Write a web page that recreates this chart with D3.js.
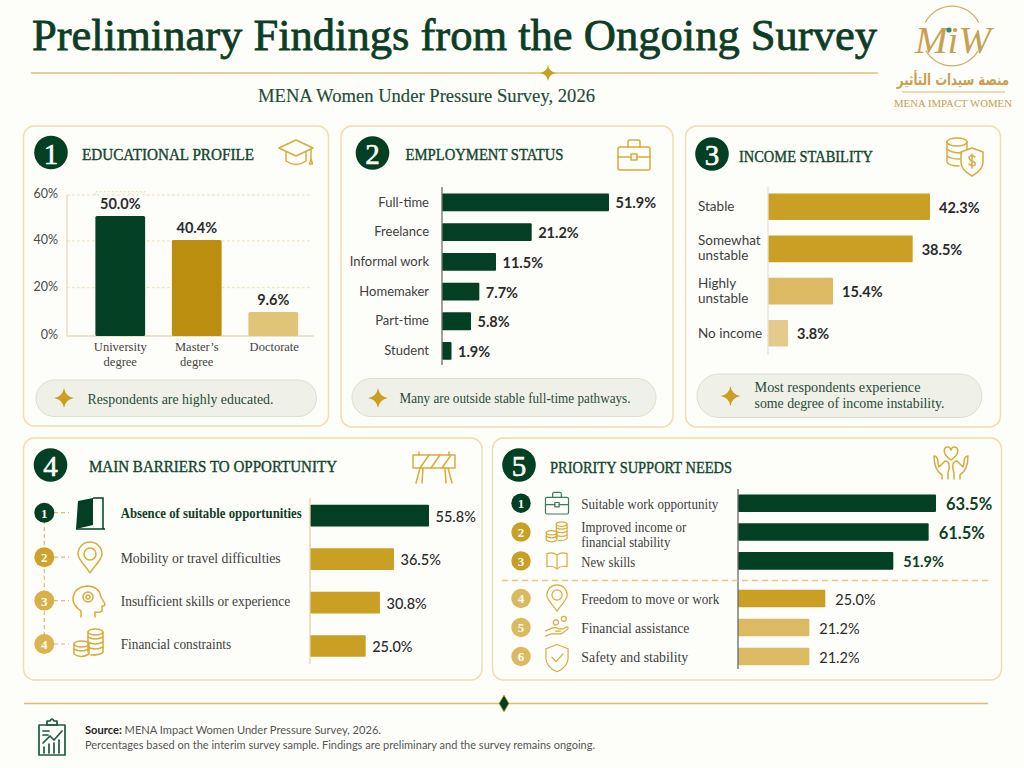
<!DOCTYPE html>
<html lang="en">
<head>
  <meta charset="utf-8">
  <title>Preliminary Findings from the Ongoing Survey</title>
  <script src="https://d3js.org/d3.v7.min.js"></script>
  <style>
    html, body { margin: 0; background: #fdfdfa; }
    svg { display: block; }
    text { font-family: "Liberation Serif", serif; }
    .sans { font-family: Lato, sans-serif; }
    .value { font-family: Lato, sans-serif; font-weight: 700; font-size: 14.5px; fill: #2b2b2b; dominant-baseline: central; }
    .domain { display: none; }
    .icon { fill: none; stroke-linecap: round; stroke-linejoin: round; }
  </style>
</head>
<body>
<script>
// values
var eduLabels = ["University degree", "Master\u2019s degree", "Doctorate"];
var eduValues = [50.0, 40.4, 9.6];
var eduTicks = [0, 20, 40, 60];

var empLabels = ["Full-time", "Freelance", "Informal work", "Homemaker", "Part-time", "Student"];
var empValues = [51.9, 21.2, 11.5, 7.7, 5.8, 1.9];

var incLabels = ["Stable", "Somewhat unstable", "Highly unstable", "No income"];
var incValues = [42.3, 38.5, 15.4, 3.8];

var barLabels = ["Absence of suitable opportunities", "Mobility or travel difficulties", "Insufficient skills or experience", "Financial constraints"];
var barValues = [55.8, 36.5, 30.8, 25.0];

var topNeedLabels = ["Suitable work opportunity", "Improved income or financial stability", "New skills"];
var topNeedValues = [63.5, 61.5, 51.9];
var lowNeedLabels = ["Freedom to move or work", "Financial assistance", "Safety and stability"];
var lowNeedValues = [25.0, 21.2, 21.2];

var GREEN = "#033f23", GOLD = "#c99f24", DARKGOLD = "#bc8e10", LIGHT = "#dcb963", PALE = "#e5cb8b";
var INK = "#0f3f28", OUTLINE = "#d9ab3e";

var pct = function(d) { return d.toFixed(1) + "%"; };

var svg = d3.select("body").append("svg").attr("width", 1024).attr("height", 768);
svg.append("rect").attr("width", 1024).attr("height", 768).attr("fill", "#fdfdfa");

// small path library for the pictograms, all drawn round 0,0
var icons = {
  cap: ["M-17,-5L0,-13L17,-5L0,3Z", "M-10,-1V8Q0,15 10,8V-1", "M15,-4V7", "M13.5,11L15,6L16.5,11Z"],
  case: ["M-14,-8H14Q16,-8 16,-6V13Q16,15 14,15H-14Q-16,15 -16,13V-6Q-16,-8 -14,-8Z", "M-6,-8V-13Q-6,-15 -4,-15H4Q6,-15 6,-13V-8", "M-16,2H-3M3,2H16", "M-3,-1H3V5H-3Z"],
  coinshield: ["M-18,-14A10,4 0 1 1 2,-14A10,4 0 1 1 -18,-14", "M-18,-14V6Q-16,10 -6,10", "M2,-14V-7", "M-18,-7Q-14,-3 -3,-3", "M-18,0Q-14,3 -5,3",
    "M7,-8L18,-4V6Q18,14 7,20Q-4,14 -4,6V-4Z", "M10,1Q7,-2 4,1Q4,4 7,5Q11,6 10,9Q7,11 4,8M7,-2V12"],
  barrier: ["M-21,-12H21V1H-21Z", "M-14,1L-5,-12M-3,1L6,-12M8,1L17,-12", "M-15,-15V-12M15,-15V-12", "M-14,1L-18,16M-11,1L-12,16M14,1L18,16M11,1L12,16"],
  hands: ["M0,-4C-10,-11 -7,-17 -3,-17Q-1,-17 0,-14Q1,-17 3,-17C7,-17 10,-11 0,-4Z",
    "M-9,15V11Q-17,6 -17,-8Q-13,-8 -13,-1L-12,3L-6,-3Q-3,-3 -2,0Q-1,4 -3,9V15",
    "M9,15V11Q17,6 17,-8Q13,-8 13,-1L12,3L6,-3Q3,-3 2,0Q1,4 3,9V15"],
  pin: ["M0,15C-4,8 -12,2 -12,-4A12,12 0 1 1 12,-4C12,2 4,8 0,15Z", "M-6,-4A6,6 0 1 1 6,-4A6,6 0 1 1 -6,-4"],
  head: ["M-9,15V9Q-18,3 -17,-5Q-15,-15 -3,-16Q9,-16 11,-5L15,2Q15,4 12,4V9Q10,11 5,10V15", "M-7,-5A5,5 0 1 1 3,-5A5,5 0 1 1 -7,-5", "M-4,-5A2,2 0 1 1 0,-5A2,2 0 1 1 -4,-5"],
  coins: ["M-1,-11A7.5,3 0 1 1 14,-11A7.5,3 0 1 1 -1,-11", "M-1,-11V9M14,-11V9Q12,12 2,12", "M-1,-6Q6,-2 14,-6M-1,-1Q6,3 14,-1M-1,4Q6,8 14,4",
    "M-15,1A7.5,3 0 1 1 0,1A7.5,3 0 1 1 -15,1", "M-15,1V11Q-8,16 0,11V1", "M-15,6Q-8,10 0,6"],
  book: ["M0,-8Q-6,-13 -14,-10V8Q-6,6 0,11Q6,6 14,8V-10Q6,-13 0,-8Z", "M0,-8V11"],
  handcoins: ["M-16,5L-7,1Q-2,-1 2,2H8L14,-1Q17,0 14,3L6,9H-8L-16,12", "M-2,5H5", "M-5,-7A3.5,3.5 0 1 1 2,-7A3.5,3.5 0 1 1 -5,-7", "M6,-12A3.5,3.5 0 1 1 13,-12A3.5,3.5 0 1 1 6,-12"],
  shield: ["M0,-14L13,-9V2Q13,12 0,18Q-13,12 -13,2V-9Z", "M-6,1L-1,6L7,-3"],
  clipboard: ["M-13,-13H13V17H-13Z", "M-5,-13V-17H-2Q0,-21 2,-17H5V-13Z", "M-9,-7H-3M-9,-3H-4", "M-9,5L-2,-2L2,2L10,-7", "M-8,15V9M-3,15V6M2,15V5M7,15V2"]
};

function drawIcon(name, x, y, color, scale, width) {
  var g = svg.append("g").attr("class", "icon")
    .attr("transform", "translate(" + x + "," + y + ") scale(" + (scale || 1) + ")")
    .attr("stroke", color).attr("stroke-width", (width || 1.4) / (scale || 1));
  icons[name].forEach(function(d) { g.append("path").attr("d", d); });
  return g;
}

function star(x, y, r, color) {
  var c = r * 0.14;
  svg.append("path").attr("transform", "translate(" + x + "," + y + ")")
    .attr("d", "M0," + (-r) + "Q" + c + "," + (-c) + " " + r + ",0Q" + c + "," + c + " 0," + r + "Q" + (-c) + "," + c + " " + (-r) + ",0Q" + (-c) + "," + (-c) + " 0," + (-r) + "Z")
    .attr("fill", color);
}

function fitted(x, y, str, len, size, color) {
  return svg.append("text").attr("x", x).attr("y", y).text(str)
    .attr("font-size", size).attr("fill", color)
    .attr("dominant-baseline", "central")
    .attr("textLength", len).attr("lengthAdjust", "spacingAndGlyphs");
}

function panel(x, y, w, h, n, cx, cy, title, tx, ty, tw) {
  svg.append("rect").attr("x", x).attr("y", y).attr("width", w).attr("height", h).attr("rx", 11)
    .attr("fill", "#fdfdf9").attr("stroke", "#f0dcae").attr("stroke-width", 1.4);
  svg.append("circle").attr("cx", cx).attr("cy", cy).attr("r", 16.8).attr("fill", GREEN);
  svg.append("text").attr("x", cx).attr("y", cy + 1).text(n).attr("text-anchor", "middle")
    .attr("dominant-baseline", "central").attr("font-size", 29).attr("fill", "#fdfdfa")
    .attr("stroke", "#fdfdfa").attr("stroke-width", 0.6);
  fitted(tx, ty, title, tw, 17, "#14452f").attr("stroke", "#14452f").attr("stroke-width", 0.4);
}

function pill(x, y, w, h, sx, sy, lines, tx, lineYs, lens) {
  svg.append("rect").attr("x", x).attr("y", y).attr("width", w).attr("height", h).attr("rx", h / 2)
    .attr("fill", "#eff1e8").attr("stroke", "#dbe0cd");
  star(sx, sy, 10, GOLD);
  lines.forEach(function(l, i) { fitted(tx, lineYs[i], l, lens[i], 14.5, "#2c4a3a"); });
}

// horizontal bars through band + linear scales; the drawn lengths in the
// reference do not follow one straight scale so the x scales have several knots
function hBars(labels, values, y, x, color) {
  var x0 = x.range()[0];
  svg.append("g").selectAll("rect").data(values).join("rect")
    .attr("x", x0).attr("y", function(d, i) { return y(labels[i]); })
    .attr("width", function(d) { return x(d) - x0; }).attr("height", y.bandwidth())
    .attr("rx", 1).attr("fill", function(d, i) { return color(labels[i]); });
}

function hValues(labels, values, y, x, gap, fmt) {
  return svg.append("g").selectAll("text").data(values).join("text").attr("class", "value")
    .attr("x", function(d) { return x(d) + gap; })
    .attr("y", function(d, i) { return y(labels[i]) + y.bandwidth() / 2 + 0.5; })
    .text(fmt || pct);
}

function rule(x, y1, y2, color) {
  svg.append("line").attr("x1", x).attr("x2", x).attr("y1", y1).attr("y2", y2)
    .attr("stroke", color).attr("stroke-width", 1.3);
}

function wrapLines(label) {
  if (label.indexOf("Somewhat") === 0) return ["Somewhat", "unstable"];
  if (label.indexOf("Highly") === 0) return ["Highly", "unstable"];
  if (label.indexOf("University") === 0) return ["University", "degree"];
  if (label.indexOf("Master") === 0) return ["Master\u2019s", "degree"];
  if (label.indexOf("Improved") === 0) return ["Improved income or", "financial stability"];
  return [label];
}

// header
svg.append("text").attr("x", 32).attr("y", 50).text("Preliminary Findings from the Ongoing Survey")
  .attr("font-size", 45).attr("fill", "#0e3d26").attr("stroke", "#0e3d26").attr("stroke-width", 0.8)
  .attr("textLength", 845).attr("lengthAdjust", "spacingAndGlyphs");
svg.append("line").attr("x1", 31).attr("x2", 878).attr("y1", 73).attr("y2", 73).attr("stroke", "#e2bf72").attr("stroke-width", 1.3);
star(548, 73, 8, GOLD);
fitted(258, 95, "MENA Women Under Pressure Survey, 2026", 337, 19.5, "#234b38").attr("stroke", "#234b38").attr("stroke-width", 0.15);

// logo
var LOGO = "#c9a053";
svg.append("path").attr("d", d3.arc()({ innerRadius: 29.3, outerRadius: 30.5, startAngle: -1.1, endAngle: 1.1 }))
  .attr("transform", "translate(952,36)").attr("fill", "#d3ae66");
svg.append("path").attr("d", d3.arc()({ innerRadius: 29.3, outerRadius: 30.5, startAngle: 2.1, endAngle: 4.2 }))
  .attr("transform", "translate(952,36)").attr("fill", "#d3ae66");
svg.append("text").attr("x", 953).attr("y", 53).text("MiW").attr("text-anchor", "middle")
  .attr("font-size", 38).attr("font-style", "italic").attr("fill", LOGO)
  .attr("textLength", 76).attr("lengthAdjust", "spacingAndGlyphs");
svg.append("circle").attr("cx", 949).attr("cy", 30).attr("r", 2.6).attr("fill", "#2e8f63");
svg.append("text").attr("transform", "translate(953,85) scale(0.76,1)").text("\u0645\u0646\u0635\u0629 \u0633\u064a\u062f\u0627\u062a \u0627\u0644\u062a\u0623\u062b\u064a\u0631")
  .attr("text-anchor", "middle").attr("direction", "rtl").attr("font-size", 15.5).attr("font-weight", 700)
  .style("font-family", "'DejaVu Sans', sans-serif").attr("fill", LOGO);
svg.append("line").attr("x1", 902).attr("x2", 1005).attr("y1", 92).attr("y2", 92).attr("stroke", "#d8b878");
fitted(894, 103, "MENA IMPACT WOMEN", 118, 11, LOGO);

// 1 educational profile
panel(23.5, 126, 305, 300, "1", 51, 152.5, "EDUCATIONAL PROFILE", 82, 154, 172);
drawIcon("cap", 296, 153, OUTLINE, 1, 1.5);

var eduY = d3.scaleLinear().domain([0, 9.6, 40.4, 50, 60]).range([336, 312, 240, 216, 195]);
var eduX = d3.scaleBand().domain(eduLabels).range([82, 311.5]).paddingInner(0.35).paddingOuter(0.175);
var eduColor = d3.scaleOrdinal(eduLabels, [GREEN, DARKGOLD, "#e0c477"]);

svg.append("g").selectAll("line").data(eduTicks.slice(1)).join("line")
  .attr("x1", 67).attr("x2", 310).attr("y1", function(d) { return eduY(d); }).attr("y2", function(d) { return eduY(d); })
  .attr("stroke", "#ecdcb0").attr("stroke-dasharray", "2.5 2.5");
svg.append("path").attr("d", "M95,195V191.7H145V195").attr("fill", "none").attr("stroke", "#ecdcb0").attr("stroke-dasharray", "2 2");
rule(67, 195, 336, "#e6d9bd");
svg.append("line").attr("x1", 67).attr("x2", 314).attr("y1", 336).attr("y2", 336).attr("stroke", "#e6d9bd").attr("stroke-width", 1.3);

var eduAxisY = svg.append("g").attr("transform", "translate(67,1.5)")
  .call(d3.axisLeft(eduY).tickValues(eduTicks).tickSize(0).tickPadding(9).tickFormat(function(d) { return d + "%"; }));
eduAxisY.selectAll("text").attr("class", "sans").attr("font-size", 12.5).attr("fill", "#4a4a4a").attr("dy", "0.1em");

var eduAxisX = svg.append("g").attr("transform", "translate(0,336)")
  .call(d3.axisBottom(eduX).tickSize(0).tickFormat(""));
eduAxisX.selectAll(".tick text").each(function(d) {
  var t = d3.select(this).attr("y", 0).attr("dy", null).attr("font-size", 12.5).attr("fill", "#444");
  wrapLines(d).forEach(function(l, i) {
    t.append("tspan").attr("x", d === "Doctorate" ? 1 : 0).attr("y", 15 + i * 14.5).text(l);
  });
});

svg.append("g").selectAll("rect").data(eduValues).join("rect")
  .attr("x", function(d, i) { return eduX(eduLabels[i]); }).attr("y", function(d) { return eduY(d); })
  .attr("width", eduX.bandwidth()).attr("height", function(d) { return eduY(0) - eduY(d); })
  .attr("rx", 1.5).attr("fill", function(d, i) { return eduColor(eduLabels[i]); });
svg.append("g").selectAll("text").data(eduValues).join("text").attr("class", "value")
  .attr("x", function(d, i) { return eduX(eduLabels[i]) + eduX.bandwidth() / 2; })
  .attr("y", function(d) { return eduY(d) - 12.5; }).attr("text-anchor", "middle").text(pct);
pill(36, 380, 280.5, 36.5, 64, 398, ["Respondents are highly educated."], 87.5, [398.5], [186]);

// 2 employment status
panel(341, 126, 332, 301, "2", 372.5, 153, "EMPLOYMENT STATUS", 405.5, 154.5, 158);
drawIcon("case", 634, 155, OUTLINE, 1, 1.5);

var empY = d3.scaleBand().domain(empLabels).range([187.6, 365.8]).paddingInner(0.4).paddingOuter(0.2);
var empX = d3.scaleLinear().domain([0, 5.8, 11.5, 21.2, 51.9]).range([442, 471, 496, 531.7, 609]);
hBars(empLabels, empValues, empY, empX, function() { return GREEN; });
rule(442, 187, 365, "#6b6f6a");
hValues(empLabels, empValues, empY, empX, 6.5);
var empAxis = svg.append("g").attr("transform", "translate(442,0)")
  .call(d3.axisLeft(empY).tickSize(0).tickPadding(13));
empAxis.selectAll("text").attr("class", "sans").attr("font-size", 13).attr("fill", "#3f3f3f");
pill(352, 378.5, 304, 38, 378, 398, ["Many are outside stable full-time pathways."], 399.5, [397.5], [231]);

// 3 income stability
panel(685.5, 126, 315, 301, "3", 712, 154, "INCOME STABILITY", 739, 156, 134);
drawIcon("coinshield", 965, 156, OUTLINE, 1, 1.5);

var incY = d3.scaleBand().domain(incLabels).range([185.6, 354.4]).paddingInner(0.37).paddingOuter(0.185);
var incX = d3.scaleLinear().domain([0, 3.8, 15.4, 38.5, 42.3]).range([768, 788, 833, 912.7, 930]);
var incColor = d3.scaleOrdinal(incLabels, [GOLD, GOLD, LIGHT, PALE]);
hBars(incLabels, incValues, incY, incX, incColor);
rule(768, 187, 355, "#e8e2d2");
hValues(incLabels, incValues, incY, incX, 9);
var incAxis = svg.append("g").attr("transform", "translate(768,0)")
  .call(d3.axisLeft(incY).tickSize(0));
incAxis.selectAll(".tick text").each(function(d) {
  var lines = wrapLines(d);
  var t = d3.select(this).attr("x", null).attr("dy", null).attr("class", "sans").attr("text-anchor", "start")
    .attr("font-size", 13.5).attr("fill", "#3f3f3f");
  t.text(null);
  lines.forEach(function(l, i) {
    t.append("tspan").attr("x", -70).attr("y", (i - (lines.length - 1) / 2) * 15 + 4.5 - (lines.length - 1) * 0.5).text(l);
  });
});
pill(697, 374, 285, 43.5, 730.5, 396, ["Most respondents experience", "some degree of income instability."], 754.5, [387, 403], [166, 190]);

// 4 main barriers
panel(23.5, 438, 458.5, 242, "4", 50.5, 465, "MAIN BARRIERS TO OPPORTUNITY", 89, 466, 248);
drawIcon("barrier", 434, 467, OUTLINE, 1, 1.5);

var barY = d3.scaleBand().domain(barLabels).range([494, 667.7]).paddingInner(0.5).paddingOuter(0.25);
var barX = d3.scaleLinear().domain([0, 25, 36.5, 55.8]).range([310, 365.7, 394, 429]);
var barColor = d3.scaleOrdinal(barLabels, [GREEN, GOLD, GOLD, GOLD]);
hBars(barLabels, barValues, barY, barX, barColor);
rule(310, 498, 664, "#e3d3ab");
hValues(barLabels, barValues, barY, barX, 6.5).style("font-weight", 500);

var barLen = [181, 160, 169.5, 110.5];
barLabels.forEach(function(l, i) {
  var cy = barY(l) + barY.bandwidth() / 2 - (i === 0 ? 2.5 : 1.5);
  fitted(120.7, cy, l, barLen[i], 14.5, i === 0 ? "#123d29" : "#3d3d3d").attr("font-weight", i === 0 ? 700 : 400);
});

var rankFill = d3.scaleOrdinal(barLabels, [GREEN, "#cfa22b", "#d7b04a", "#d9b44f"]);
svg.append("line").attr("x1", 44.3).attr("x2", 44.3).attr("y1", 513).attr("y2", 643)
  .attr("stroke", "#eab676").attr("stroke-dasharray", "4 3").attr("stroke-width", 1.2);
barLabels.forEach(function(l, i) {
  var cy = barY(l) + barY.bandwidth() / 2 - (i === 0 ? 3 : 2);
  svg.append("line").attr("x1", 54).attr("x2", 69).attr("y1", cy).attr("y2", cy)
    .attr("stroke", "#eab676").attr("stroke-dasharray", "4 3").attr("stroke-width", 1.2);
  svg.append("circle").attr("cx", 44.3).attr("cy", cy).attr("r", 10).attr("fill", rankFill(l));
  svg.append("text").attr("x", 44.3).attr("y", cy + 0.5).text(i + 1).attr("text-anchor", "middle")
    .attr("dominant-baseline", "central").attr("font-size", 13).attr("font-weight", 700).attr("fill", "#fdfdfa");
});
svg.append("path").attr("d", "M76,529L78,501L93,498V525Z").attr("fill", GREEN);
svg.append("path").attr("d", "M93,498H103V529M76,529H105").attr("fill", "none").attr("stroke", GREEN).attr("stroke-width", 1.5);
drawIcon("pin", 90, 558, OUTLINE, 1, 1.5);
drawIcon("head", 90, 602, OUTLINE, 1, 1.5);
drawIcon("coins", 89, 643, OUTLINE, 1, 1.5);

// 5 priority support needs
panel(492.5, 438, 509, 242, "5", 519, 465, "PRIORITY SUPPORT NEEDS", 550, 467, 182);
drawIcon("hands", 951, 464, OUTLINE, 1, 1.5);

var needX = d3.scaleLinear().domain([0, 21.2, 25, 51.9, 63.5]).range([738, 809.3, 825.3, 893.3, 936]);
var topY = d3.scaleBand().domain(topNeedLabels).range([488.8, 575.3]).paddingInner(0.39).paddingOuter(0.195);
var lowY = d3.scaleBand().domain(lowNeedLabels).range([584, 671]).paddingInner(0.39).paddingOuter(0.195);
var lowColor = d3.scaleOrdinal(lowNeedLabels, [GOLD, LIGHT, LIGHT]);

hBars(topNeedLabels, topNeedValues, topY, needX, function() { return GREEN; });
hBars(lowNeedLabels, lowNeedValues, lowY, needX, lowColor);
rule(738, 489, 669, "#666b66");
svg.append("line").attr("x1", 502).attr("x2", 992).attr("y1", 580.5).attr("y2", 580.5)
  .attr("stroke", "#eac58b").attr("stroke-width", 1.3).attr("stroke-dasharray", "6 4");

hValues(topNeedLabels, topNeedValues, topY, needX, 10).style("fill", INK).style("font-size", function(d) { return d > 60 ? "16.5px" : "14.5px"; });
hValues(lowNeedLabels, lowNeedValues, lowY, needX, 10).style("font-weight", 400);

var needLen = { "Suitable work opportunity": [137], "Improved income or financial stability": [105, 89], "New skills": [54],
  "Freedom to move or work": [138], "Financial assistance": [108], "Safety and stability": [107] };
var allNeeds = topNeedLabels.concat(lowNeedLabels);
var needRowY = function(l) { return (topY(l) !== undefined ? topY(l) : lowY(l)) + topY.bandwidth() / 2; };
var needIcons = ["case", "coins", "book", "pin", "handcoins", "shield"];
var needFill = [GREEN, GOLD, GOLD, "#dbb95f", "#dbb95f", "#dbb95f"];
allNeeds.forEach(function(l, i) {
  var cy = needRowY(l);
  var lines = wrapLines(l);
  lines.forEach(function(s, j) {
    fitted(581.3, cy + 0.8 + (j - (lines.length - 1) / 2) * 14.5 + (lines.length > 1 ? 1.5 : 0), s, needLen[l][j], 14.5, "#3d3d3d");
  });
  svg.append("circle").attr("cx", 521).attr("cy", cy).attr("r", 9.7).attr("fill", needFill[i]);
  svg.append("text").attr("x", 521).attr("y", cy + 0.5).text(i + 1).attr("text-anchor", "middle")
    .attr("dominant-baseline", "central").attr("font-size", 13).attr("font-weight", 700).attr("fill", "#fdfdfa");
  drawIcon(needIcons[i], 557, cy, i === 0 ? "#3f7a5d" : OUTLINE, i === 3 || i === 5 ? 0.85 : 0.72, 1.2);
});

// footer
svg.append("line").attr("x1", 24).attr("x2", 988).attr("y1", 703.5).attr("y2", 703.5).attr("stroke", "#dcbb72").attr("stroke-width", 1.6);
svg.append("path").attr("d", "M504,695L509,703.5L504,712L499,703.5Z").attr("fill", GREEN).attr("stroke", OUTLINE).attr("stroke-width", 0.8);
drawIcon("clipboard", 52, 738, "#1f5a3d", 1, 1.7);
var src = svg.append("text").attr("class", "sans").attr("x", 85).attr("y", 734).attr("font-size", 12).attr("fill", "#555")
  .attr("textLength", 296).attr("lengthAdjust", "spacingAndGlyphs");
src.append("tspan").attr("font-weight", 700).attr("fill", "#222").text("Source:");
src.append("tspan").text(" MENA Impact Women Under Pressure Survey, 2026.");
svg.append("text").attr("class", "sans").attr("x", 85).attr("y", 749).attr("font-size", 12).attr("fill", "#555")
  .attr("textLength", 510).attr("lengthAdjust", "spacingAndGlyphs")
  .text("Percentages based on the interim survey sample. Findings are preliminary and the survey remains ongoing.");
</script>
</body>
</html>
